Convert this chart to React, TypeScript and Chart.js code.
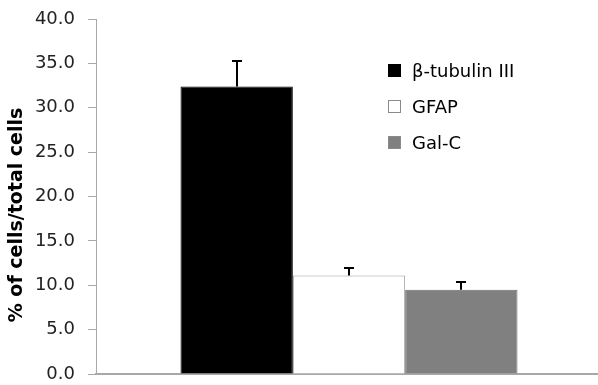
import React, { useEffect, useRef } from "react";
import { Chart, registerables } from "chart.js";

Chart.register(...registerables);

const categories = [""];
const seriesNames = ["β-tubulin III", "GFAP", "Gal-C"];
const seriesValues = [32.4, 11.1, 9.5];
const seriesErrors = [2.9, 0.8, 0.9];
const seriesColors = ["#000000", "#ffffff", "#808080"];
const seriesBorders = ["#000000", "#9a9a9a", "#6c6c6c"];
const yTitle = "% of cells/total cells";

const FONT = "'DejaVu Sans', sans-serif";

const errorBarPlugin = {
  id: "errorBars",
  afterDatasetsDraw(chart: any) {
    const ctx = chart.ctx;
    const y = chart.scales.y;
    ctx.save();
    ctx.strokeStyle = "#000";
    ctx.lineWidth = 2;
    chart.data.datasets.forEach((ds: any, i: number) => {
      const meta = chart.getDatasetMeta(i);
      meta.data.forEach((el: any, j: number) => {
        const v = ds.data[j];
        const e = seriesErrors[i];
        const x = Math.round(el.x);
        const yTop = Math.round(y.getPixelForValue(v + e));
        const yBase = y.getPixelForValue(v);
        ctx.beginPath();
        ctx.moveTo(x, yBase);
        ctx.lineTo(x, yTop);
        ctx.moveTo(x - 5, yTop);
        ctx.lineTo(x + 5, yTop);
        ctx.stroke();
      });
    });
    ctx.restore();
  },
};

const legendPlugin = {
  id: "insideLegend",
  afterDraw(chart: any) {
    const ctx = chart.ctx;
    ctx.save();
    ctx.font = `18px ${FONT}`;
    ctx.textBaseline = "middle";
    const rows = [70, 106, 142];
    seriesNames.forEach((name, i) => {
      const cy = rows[i];
      ctx.fillStyle = seriesColors[i];
      ctx.fillRect(388, cy - 6, 13, 13);
      ctx.strokeStyle = i === 0 ? "#000" : "#8a8a8a";
      ctx.lineWidth = 1;
      ctx.strokeRect(388.5, cy - 5.5, 12, 12);
      ctx.fillStyle = "#000";
      ctx.fillText(name, 412, cy + 2);
    });
    // y-axis title
    ctx.translate(17, 215);
    ctx.rotate(-Math.PI / 2);
    ctx.font = `bold 19px ${FONT}`;
    ctx.textAlign = "center";
    ctx.textBaseline = "middle";
    ctx.fillStyle = "#000";
    ctx.fillText(yTitle, 0, 0);
    ctx.restore();
  },
};

export default function App() {
  const ref = useRef<HTMLCanvasElement>(null);
  useEffect(() => {
    const chart = new Chart(ref.current!, {
      type: "bar",
      data: {
        labels: categories,
        datasets: seriesNames.map((n, i) => ({
          label: n,
          data: [seriesValues[i]],
          backgroundColor: seriesColors[i],
          borderColor: seriesBorders[i],
          borderWidth: 1,
        })),
      },
      options: {
        animation: false,
        responsive: false,
        layout: { padding: { top: 19, bottom: 11, left: 0, right: 0 } },
        plugins: { legend: { display: false }, tooltip: { enabled: false } },
        datasets: { bar: { categoryPercentage: 0.666, barPercentage: 1 } },
        scales: {
          x: {
            grid: { display: false },
            ticks: { display: false },
            border: { color: "#a8a8a8", width: 2 },
            afterFit: (axis: any) => {
              axis.height = 0;
              axis.paddingLeft = 0;
              axis.paddingRight = 0;
            },
          },
          y: {
            min: 0,
            max: 40,
            ticks: {
              stepSize: 5,
              color: "#222",
              font: { size: 18, family: FONT },
              padding: 13,
              callback: (v: any) => Number(v).toFixed(1),
            },
            grid: {
              drawOnChartArea: false,
              drawTicks: true,
              tickLength: 8,
              color: "#a8a8a8",
              lineWidth: 1,
            },
            border: { color: "#a8a8a8", width: 1 },
            afterFit: (axis: any) => {
              axis.width = 96;
              axis.paddingTop = 0;
              axis.paddingBottom = 0;
            },
          },
        },
      },
      plugins: [errorBarPlugin, legendPlugin],
    });
    return () => chart.destroy();
  }, []);
  return (
    <div style={{ position: "absolute", left: 0, top: 0, width: 598, height: 385, overflow: "hidden", background: "#fff" }}>
      <canvas ref={ref} width={602} height={385} style={{ display: "block" }} />
    </div>
  );
}
